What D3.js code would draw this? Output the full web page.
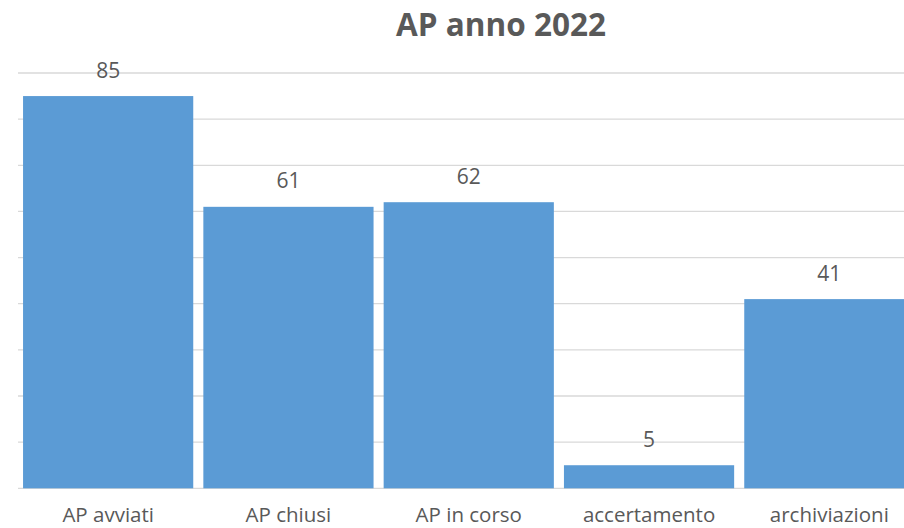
<!DOCTYPE html>
<html>
<head>
<meta charset="utf-8">
<script src="https://cdn.jsdelivr.net/npm/d3@7"></script>
<style>
  body { margin: 0; background: #fff; }
  svg { display: block; font-family: "Open Sans", sans-serif; }
</style>
</head>
<body>
<div id="chart"></div>
<script>
const categories = ["AP avviati", "AP chiusi", "AP in corso", "accertamento", "archiviazioni"];
const values = [85, 61, 62, 5, 41];
const title = "AP anno 2022";

const width = 904;
const height = 528;
const plot = { left: 18, right: 919.5, top: 73, bottom: 488.3 };

const svg = d3.select("#chart")
    .append("svg")
    .attr("width", width)
    .attr("height", height)
    .attr("viewBox", [0, 0, width, height]);

const x = d3.scaleBand()
    .domain(categories)
    .range([plot.left, plot.right])
    .paddingInner(0.056)
    .paddingOuter(0.028);

const y = d3.scaleLinear()
    .domain([0, 90])
    .range([plot.bottom, plot.top]);

// gridlines
svg.append("g")
    .selectAll("line")
    .data(y.ticks(9))
    .join("line")
    .attr("x1", plot.left)
    .attr("x2", plot.right)
    .attr("y1", d => y(d))
    .attr("y2", d => y(d))
    .attr("stroke", "#d9d9d9")
    .attr("stroke-width", 1.3);

// bars
svg.append("g")
    .selectAll("rect")
    .data(values)
    .join("rect")
    .attr("x", (d, i) => x(categories[i]))
    .attr("y", d => y(d))
    .attr("width", x.bandwidth())
    .attr("height", d => y(0) - y(d))
    .attr("fill", "#5b9bd5");

// value labels
svg.append("g")
    .selectAll("text")
    .data(values)
    .join("text")
    .attr("x", (d, i) => x(categories[i]) + x.bandwidth() / 2)
    .attr("y", d => y(d) - 18.5)
    .attr("text-anchor", "middle")
    .attr("fill", "#595959")
    .style("font-size", "21px")
    .text(d => d);

// category axis
const xAxis = svg.append("g")
    .attr("transform", `translate(0,${plot.bottom})`)
    .call(d3.axisBottom(x).tickSize(0).tickPadding(0));
xAxis.select(".domain").remove();
xAxis.selectAll("text")
    .attr("fill", "#595959")
    .style("font-family", "'Open Sans', sans-serif")
    .style("font-size", "20.5px")
    .attr("y", 34)
    .attr("dy", null);

svg.append("text")
    .attr("x", 501)
    .attr("y", 36)
    .attr("text-anchor", "middle")
    .attr("fill", "#595959")
    .style("font-size", "31.5px")
    .style("font-weight", "bold")
    .text(title);
</script>
</body>
</html>
